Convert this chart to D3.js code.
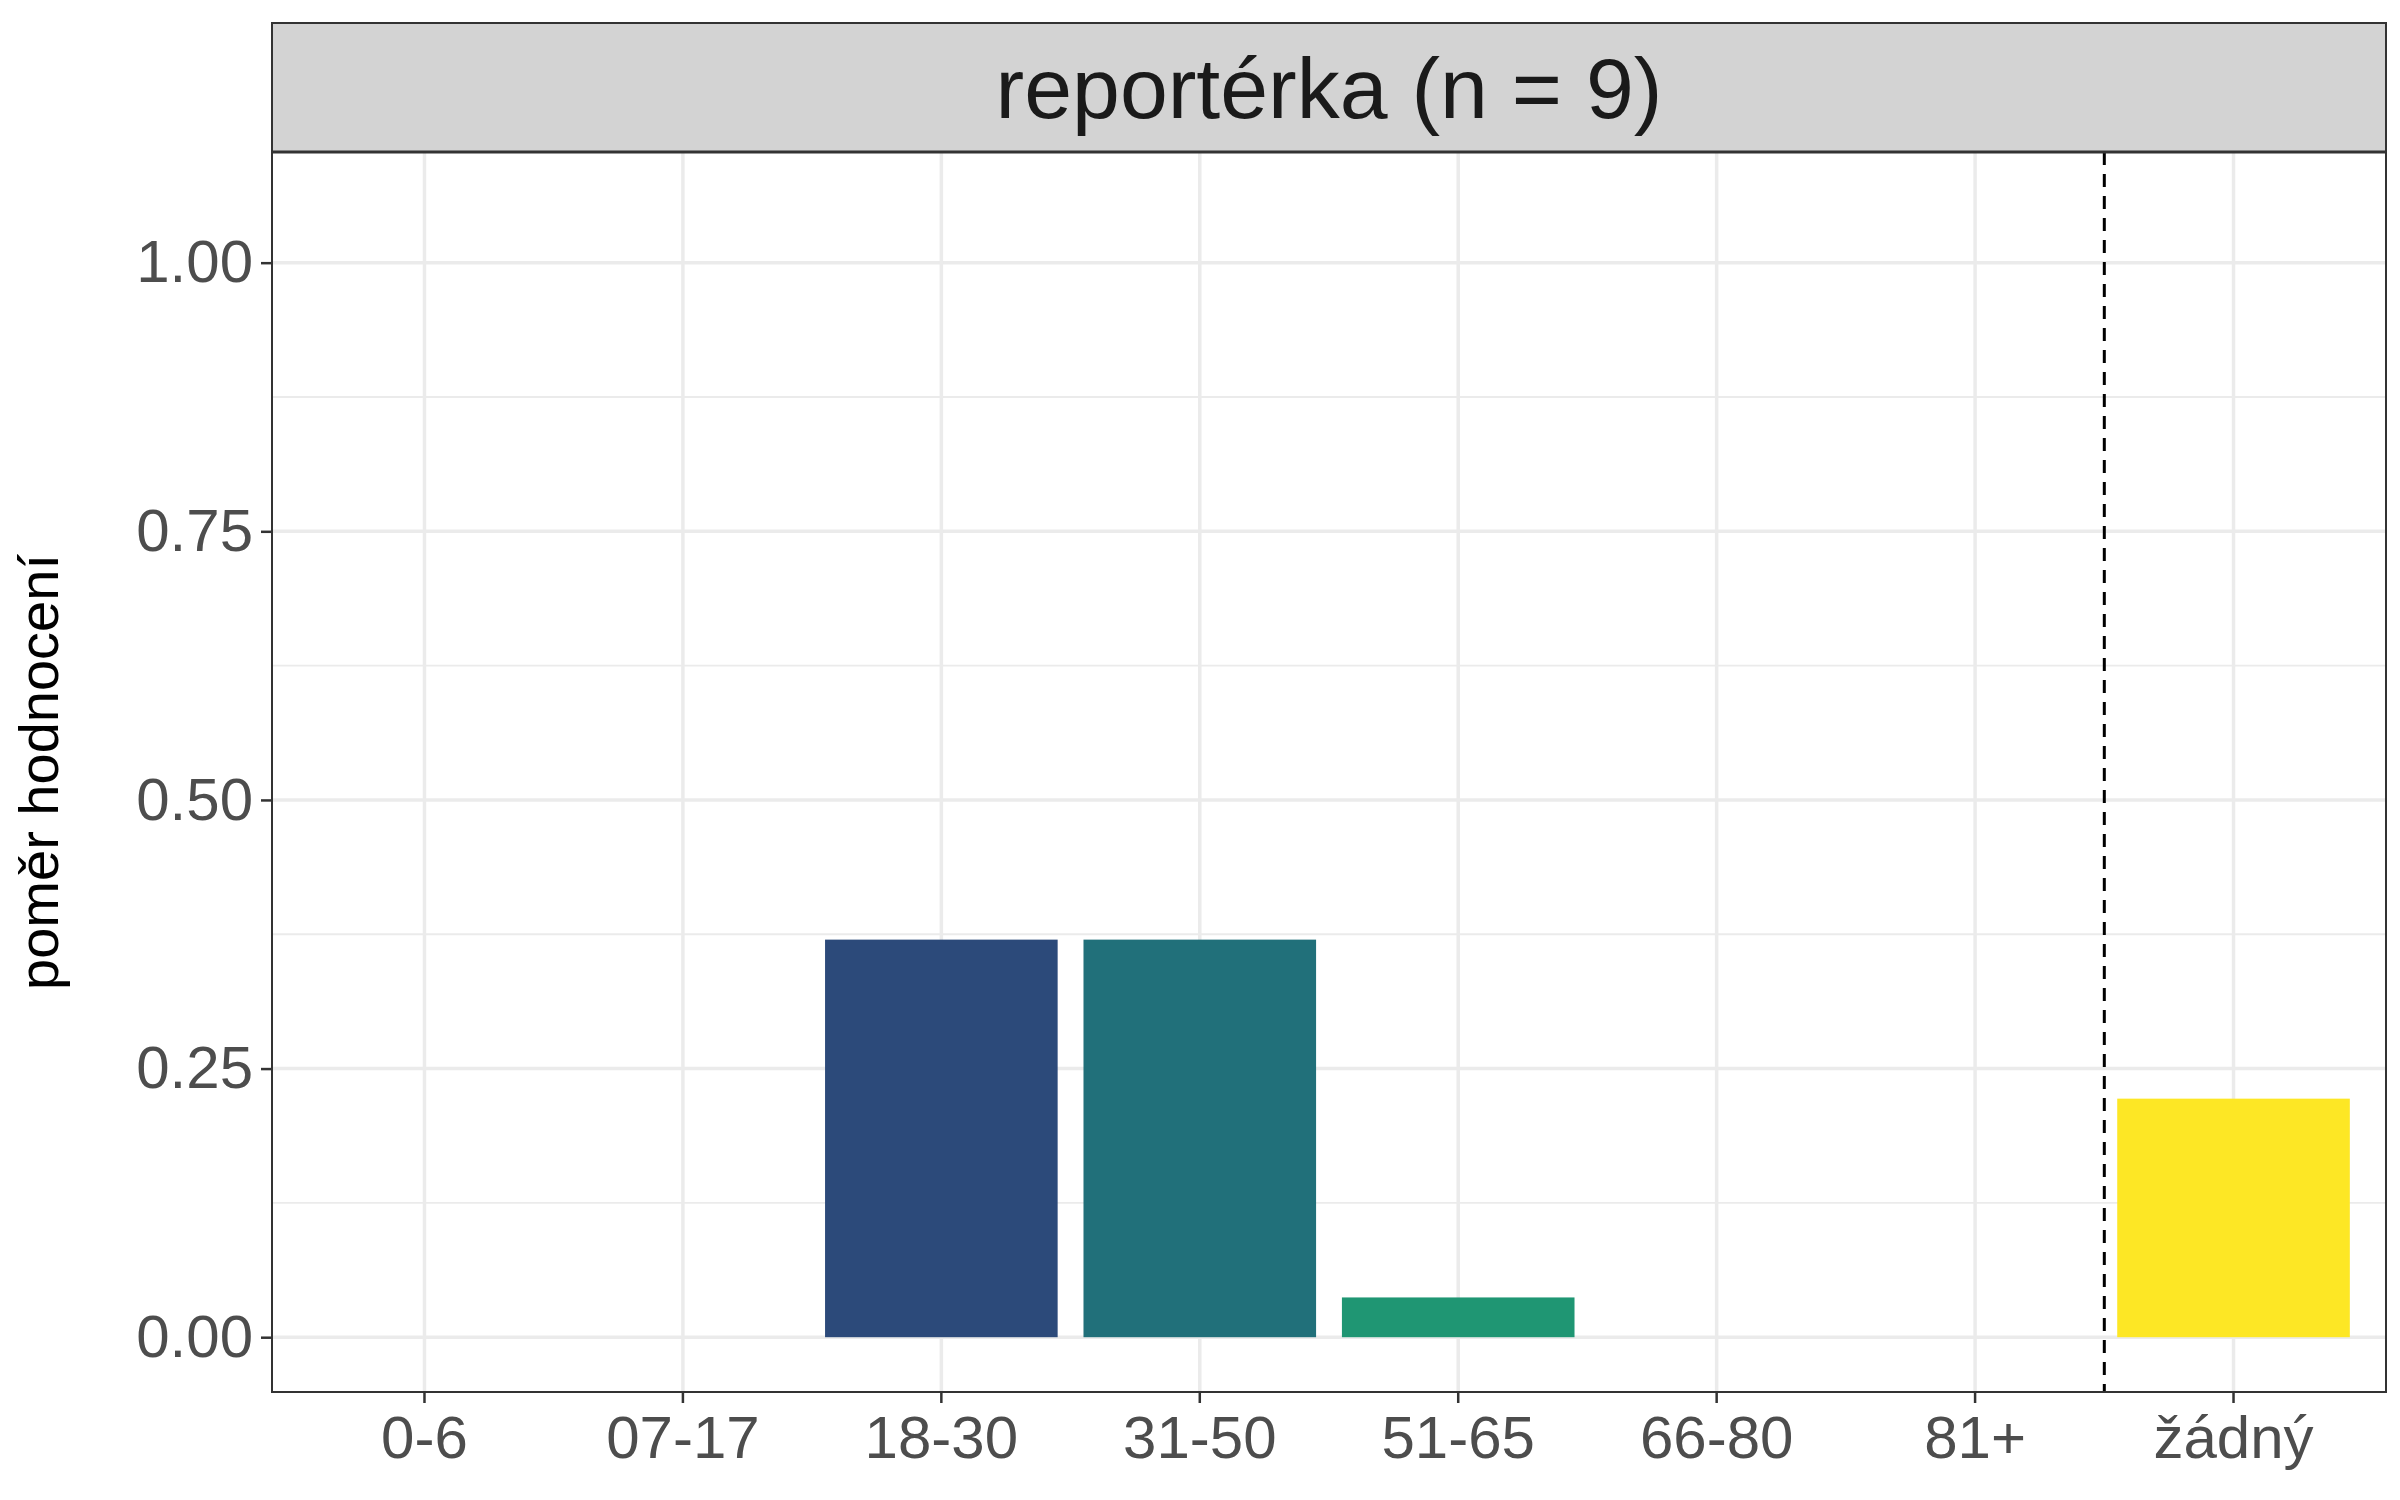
<!DOCTYPE html>
<html><head><meta charset="utf-8">
<script src="https://cdn.jsdelivr.net/npm/d3@7"></script>
<style>body{margin:0;background:#fff}text{font-family:"Liberation Sans",Arial,sans-serif}</style>
</head><body>
<script>
var categories = ["0-6", "07-17", "18-30", "31-50", "51-65", "66-80", "81+", "žádný"];
var values = [0, 0, 0.370, 0.370, 0.037, 0, 0, 0.222];
var colors = ["#440154", "#46327e", "#2c4a7a", "#21707a", "#1f9673", "#56c667", "#addc30", "#fde725"];
var yTicks = [0, 0.25, 0.5, 0.75, 1];
var yMinor = [0.125, 0.375, 0.625, 0.875];
var title = "reportérka (n = 9)";

var W = 2400, H = 1500;
var left = 272, right = 2386, stripTop = 23, plotTop = 152, plotBottom = 1392;

var svg = d3.select("body").append("svg").attr("width", W).attr("height", H);

var x = d3.scaleBand().domain(categories).range([left, right]).paddingInner(0.1).paddingOuter(0.14);
var y = d3.scaleLinear().domain([-0.051, 1.103]).range([plotBottom, plotTop]);

// grid
svg.append("g").selectAll("line").data(yMinor).enter().append("line")
  .attr("x1", left).attr("x2", right).attr("y1", function(d){return y(d);}).attr("y2", function(d){return y(d);})
  .attr("stroke", "#ebebeb").attr("stroke-width", 1.8);
svg.append("g").selectAll("line").data(yTicks).enter().append("line")
  .attr("x1", left).attr("x2", right).attr("y1", function(d){return y(d);}).attr("y2", function(d){return y(d);})
  .attr("stroke", "#ebebeb").attr("stroke-width", 3.5);
svg.append("g").selectAll("line").data(categories).enter().append("line")
  .attr("x1", function(d){return x(d) + x.bandwidth()/2;}).attr("x2", function(d){return x(d) + x.bandwidth()/2;})
  .attr("y1", plotTop).attr("y2", plotBottom)
  .attr("stroke", "#ebebeb").attr("stroke-width", 3.5);

// bars
svg.append("g").selectAll("rect").data(categories).enter().append("rect")
  .attr("x", function(d){return x(d);})
  .attr("width", x.bandwidth())
  .attr("y", function(d, i){return y(values[i]);})
  .attr("height", function(d, i){return y(0) - y(values[i]);})
  .attr("fill", function(d, i){return colors[i];});

// dashed separator
var sepX = (x("81+") + x("žádný") + x.bandwidth()) / 2;
svg.append("line").attr("x1", sepX).attr("x2", sepX).attr("y1", plotTop).attr("y2", plotBottom)
  .attr("stroke", "#000").attr("stroke-width", 3).attr("stroke-dasharray", "13,9");

// panel border
svg.append("rect").attr("x", left).attr("y", plotTop).attr("width", right - left).attr("height", plotBottom - plotTop)
  .attr("fill", "none").attr("stroke", "#333").attr("stroke-width", 2);

// strip
svg.append("rect").attr("x", left).attr("y", stripTop).attr("width", right - left).attr("height", plotTop - stripTop)
  .attr("fill", "#d3d3d3").attr("stroke", "#333").attr("stroke-width", 2);
svg.append("line").attr("x1", left).attr("x2", right).attr("y1", plotTop).attr("y2", plotTop)
  .attr("stroke", "#333").attr("stroke-width", 3);
svg.append("text").attr("x", (left + right)/2).attr("y", (stripTop + plotTop)/2 + 30)
  .attr("text-anchor", "middle").attr("font-size", 86).attr("fill", "#1a1a1a").text(title);

// axes
var yAxis = svg.append("g").attr("transform", "translate(" + left + ",0)")
  .call(d3.axisLeft(y).tickValues(yTicks).tickFormat(d3.format(".2f")).tickSize(11).tickPadding(8));
var xAxis = svg.append("g").attr("transform", "translate(0," + plotBottom + ")")
  .call(d3.axisBottom(x).tickSize(11).tickPadding(10));
[yAxis, xAxis].forEach(function(a){
  a.select(".domain").remove();
  a.selectAll(".tick line").attr("stroke", "#333").attr("stroke-width", 2.5);
  a.selectAll(".tick text").attr("font-size", 60).attr("fill", "#4d4d4d");
});
xAxis.selectAll(".tick text").attr("dy", "0.75em");

svg.append("text").attr("transform", "translate(58," + ((plotTop + plotBottom)/2) + ") rotate(-90)")
  .attr("text-anchor", "middle").attr("font-size", 56).attr("fill", "#000").text("poměr hodnocení");
</script>
</body></html>
